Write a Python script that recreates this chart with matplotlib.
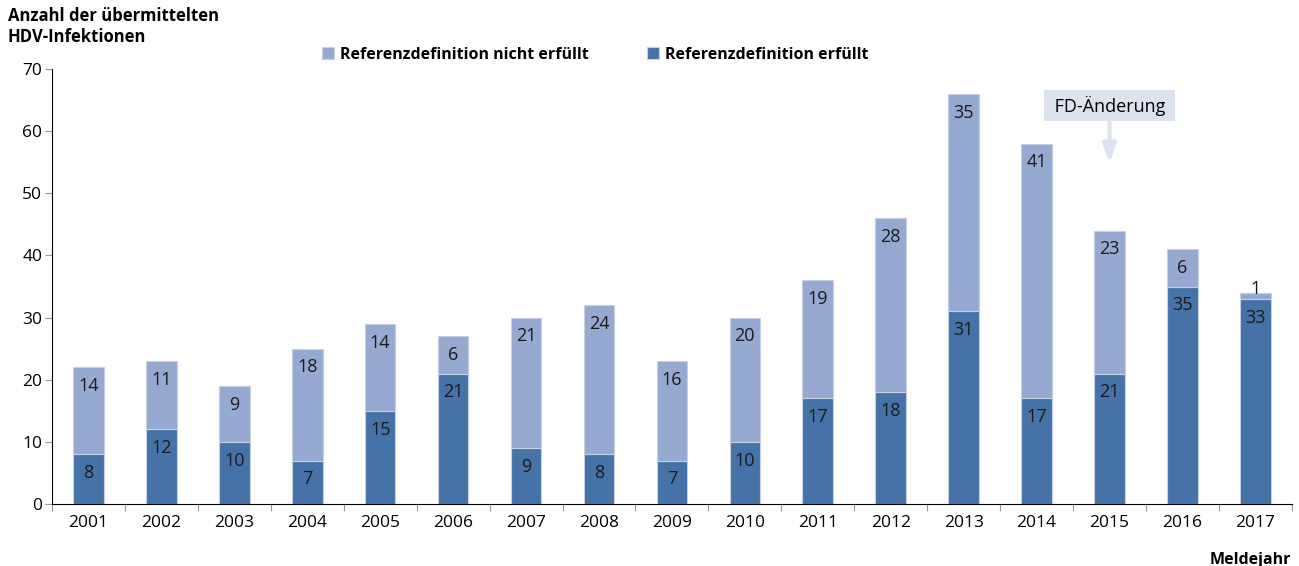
import numpy as np
import matplotlib.pyplot as plt

plt.rcParams['font.family'] = ['Open Sans', 'DejaVu Sans']

# Data
# ------------------------------------------------------------------------

years = ['2001', '2002', '2003', '2004', '2005', '2006', '2007', '2008', '2009',
         '2010', '2011', '2012', '2013', '2014', '2015', '2016', '2017']
erfuellt = [8, 12, 10, 7, 15, 21, 9, 8, 7, 10, 17, 18, 31, 17, 21, 35, 33]
nicht_erfuellt = [14, 11, 9, 18, 14, 6, 21, 24, 16, 20, 19, 28, 35, 41, 23, 6, 1]

c_dark = '#4573a7'
c_light = '#95a9d1'
c_note = '#dce3ef'

# Plot
# ------------------------------------------------------------------------

fig = plt.figure(figsize=(12.99, 5.66), dpi=100)
ax = fig.add_axes([0.040, 0.1095, 0.9545, 0.7685])

x = np.arange(len(years))
b1 = ax.bar(x, erfuellt, width=0.42, color=c_dark, edgecolor='#c5d0e4', linewidth=0.8,
            label='Referenzdefinition erfüllt')
b2 = ax.bar(x, nicht_erfuellt, width=0.42, bottom=erfuellt, color=c_light,
            edgecolor='#c5d0e4', linewidth=0.8, label='Referenzdefinition nicht erfüllt')

# labels sit just below the top of each segment (tiny segments: above)
tops_dark = np.array(erfuellt)
tops_light = np.array(erfuellt) + np.array(nicht_erfuellt)
for i in range(len(years)):
    ax.annotate(str(erfuellt[i]), (x[i], tops_dark[i]), xytext=(0, -13.5),
                textcoords='offset points', ha='center', va='center',
                fontsize=13, color='#1a1a1a')
    off = -13.5 if nicht_erfuellt[i] > 2 else 3
    ax.annotate(str(nicht_erfuellt[i]), (x[i], tops_light[i]), xytext=(0, off),
                textcoords='offset points', ha='center', va='center',
                fontsize=13, color='#1a1a1a')

ax.set_xlim(-0.5, len(years) - 0.5)
ax.set_ylim(0, 70)
ax.set_yticks(range(0, 71, 10))
ax.set_xticks(np.arange(-0.5, len(years), 1))
ax.set_xticklabels([])
ax.set_xticks(x, minor=True)
ax.set_xticklabels(years, minor=True)
ax.tick_params(axis='x', which='minor', length=0, labelsize=12.5, pad=8)
ax.tick_params(axis='x', which='major', length=5, color='#999999')
ax.tick_params(axis='y', length=5, color='#999999', labelsize=12.5, pad=2)

for s in ['top', 'right']:
    ax.spines[s].set_visible(False)
ax.spines['left'].set_color('black')
ax.spines['bottom'].set_color('black')

fig.legend(handles=[b2, b1], loc='center left', bbox_to_anchor=(322 / 1299, 0.903), ncol=2,
           frameon=False, prop={'weight': 'bold', 'size': 11.5}, handlelength=0.75,
           handleheight=0.75, columnspacing=3.6, handletextpad=0.4, borderpad=0,
           borderaxespad=0)

fig.text(0.006, 0.988, 'Anzahl der übermittelten\nHDV-Infektionen', ha='left', va='top',
         fontsize=12, fontweight='bold', linespacing=1.2)
fig.text(0.994, 0.003, 'Meldejahr', ha='right', va='baseline', fontsize=11.5,
         fontweight='bold')

ax.annotate('', xy=(14, 54.9), xytext=(14, 61.6),
            arrowprops=dict(arrowstyle='-|>,head_width=0.4,head_length=1.1',
                            color=c_note, lw=3, shrinkA=0, shrinkB=0))
ax.text(14, 64.1, ' FD-Änderung ', ha='center', va='center', fontsize=13,
        bbox=dict(boxstyle='square,pad=0.3', facecolor=c_note, edgecolor='none'))

plt.savefig('out.png', dpi=100)
